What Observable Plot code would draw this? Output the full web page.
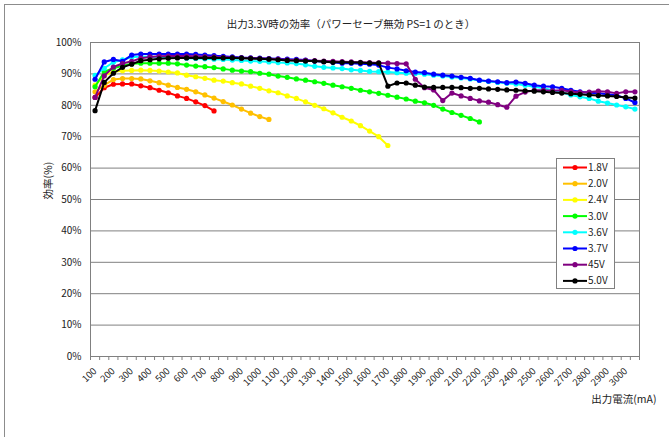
<!DOCTYPE html>
<html><head><meta charset="utf-8">
<script src="https://cdn.jsdelivr.net/npm/d3@7"></script>
<script src="https://cdn.jsdelivr.net/npm/@observablehq/plot@0.6"></script>
<style>
body{margin:0;background:#fff;overflow:hidden;font-family:"Noto Sans CJK JP",sans-serif}
#wrap{position:relative;width:669px;height:437px;overflow:hidden}
#border{position:absolute;left:4px;top:4px;width:800px;height:600px;border:1px solid #8c8c8c;box-sizing:border-box}
#chart{position:absolute;left:0;top:0}
#legend{position:absolute;left:556px;top:158px}
</style></head><body>
<div id="wrap"><div id="border"></div><div id="chart"></div><div id="legend"></div></div>
<script>
const currents = [100,150,200,250,300,350,400,450,500,550,600,650,700,750,800,850,900,950,1000,1050,
  1100,1150,1200,1250,1300,1350,1400,1450,1500,1550,1600,1650,1700,1750,1800,1850,1900,1950,2000,2050,
  2100,2150,2200,2250,2300,2350,2400,2450,2500,2550,2600,2650,2700,2750,2800,2850,2900,2950,3000,3050];
const tickLabels = [100,200,300,400,500,600,700,800,900,1000,1100,1200,1300,1400,1500,1600,1700,1800,1900,2000,
  2100,2200,2300,2400,2500,2600,2700,2800,2900,3000];
const yTicks = [0,10,20,30,40,50,60,70,80,90,100];
const seriesNames = ["1.8V","2.0V","2.4V","3.0V","3.6V","3.7V","45V","5.0V"];
const seriesColors = ["#FF0000","#FFC000","#FFFF00","#00FF00","#00FFFF","#0000FF","#800080","#000000"];
const s18 = [82.5,85.6,86.7,86.8,86.8,86.2,85.6,84.8,84.0,83.0,82.2,81.1,79.9,78.2];
const s20 = [84.3,86.4,88.2,88.5,88.5,88.4,87.8,87.2,86.4,85.7,85.1,84.3,83.3,82.3,81.2,80.1,78.8,77.5,76.4,75.5];
const s24 = [86.4,89.4,90.7,91.0,91.1,91.2,91.1,90.9,90.6,90.3,89.6,89.1,88.6,88.0,87.7,87.2,86.8,86.1,85.4,84.6,
  84.0,83.0,82.2,81.1,80.0,78.9,77.6,76.2,75.0,73.5,71.8,70.0,67.2];
const s30 = [85.9,90.7,91.8,92.6,93.2,93.4,93.4,93.4,93.4,93.2,92.8,92.5,92.3,92.0,91.6,91.2,90.9,90.7,90.2,89.9,
  89.3,88.9,88.4,88.0,87.5,87.0,86.4,85.9,85.4,84.8,84.3,83.8,83.2,82.6,82.0,81.3,80.8,80.0,78.8,77.7,
  76.8,75.8,74.7];
const s36 = [89.5,91.8,93.7,94.5,95.4,95.5,95.5,95.4,95.3,95.2,95.0,94.9,94.8,94.7,94.6,94.4,94.3,94.1,94.0,93.8,
  93.6,93.5,93.3,92.9,92.4,92.1,91.9,91.7,91.3,91.1,90.8,90.7,90.6,90.4,90.2,90.1,89.9,89.6,89.3,89.0,
  88.7,88.4,87.9,87.6,87.3,87.0,86.8,86.4,85.9,85.4,84.8,84.1,83.3,82.7,82.2,81.3,80.7,80.1,79.5,78.8];
const s37 = [88.3,93.8,94.6,94.0,96.0,96.3,96.3,96.3,96.3,96.3,96.3,96.2,96.0,95.8,95.6,95.4,95.2,95.1,95.0,94.9,
  94.8,94.7,94.6,94.4,94.1,93.9,93.7,93.4,93.4,93.2,93.1,92.8,92.0,91.6,91.0,90.6,90.4,89.9,89.6,89.3,
  88.9,88.6,88.0,87.7,87.5,87.2,87.4,87.0,86.4,86.1,85.9,85.4,84.8,84.3,84.0,83.8,83.5,83.2,82.2,80.9];
const s45 = [82.5,89.4,92.2,93.3,94.0,95.0,95.4,95.6,95.7,95.7,95.7,95.6,95.5,95.4,95.3,95.2,95.1,95.0,94.9,94.8,
  94.7,94.5,94.4,94.3,94.2,94.1,94.0,93.9,93.8,93.7,93.6,93.5,93.4,93.3,93.2,88.3,85.6,84.9,81.5,83.9,
  83.0,82.2,81.4,81.0,80.2,79.4,82.9,84.2,84.8,84.8,84.6,84.8,84.4,84.1,84.2,84.5,84.3,83.8,84.3,84.3];
const s50 = [78.3,87.3,90.2,92.1,93.1,94.2,94.5,94.8,95.0,95.1,95.1,95.1,95.1,95.1,95.1,95.1,95.0,94.9,94.8,94.7,
  94.5,94.3,94.2,94.1,94.1,93.9,93.7,93.7,93.6,93.6,93.4,93.4,86.1,87.1,87.1,86.4,85.8,85.7,85.7,85.7,
  85.6,85.4,85.4,85.2,85.1,84.9,84.8,84.6,84.5,84.3,84.1,83.9,83.7,83.5,83.3,83.1,83.0,82.8,82.5,82.3];
const allSeries = [s18,s20,s24,s30,s36,s37,s45,s50];

const font = '"Noto Sans CJK JP", sans-serif';
const boundaries = [currents[0]-25, ...currents.map(c => c+25)];

const marks = [
  Plot.gridY(yTicks, {stroke:"#808080", strokeOpacity:1, strokeWidth:1}),
  Plot.frame({stroke:"#808080", strokeWidth:1}),
  Plot.axisY(yTicks, {tickSize:0, tickPadding:9, tickFormat:d => d + "%", fontSize:10, fill:"#222", label:null}),
  Plot.axisX(boundaries, {tickSize:4, tickFormat:() => "", stroke:"#808080", label:null}),
  Plot.axisX(tickLabels, {tickSize:0, tickPadding:13, tickRotate:-45, fontSize:9.5, fill:"#222", label:null, tickFormat:d => String(d)})
];
allSeries.forEach((vals, k) => {
  const data = vals.map((v, i) => ({x: currents[i], y: v}));
  marks.push(Plot.line(data, {x:"x", y:"y", stroke:seriesColors[k], strokeWidth:2}));
  marks.push(Plot.dot(data, {x:"x", y:"y", fill:seriesColors[k], r:2.6, symbol:"circle"}));
});
marks.push(Plot.text(["出力3.3V時の効率（パワーセーブ無効 PS=1 のとき）"], {frameAnchor:"top", dx:-14, dy:-22, fontSize:10.5, fill:"#222"}));
marks.push(Plot.text(["効率(%)"], {frameAnchor:"left", dx:-42, rotate:-90, fontSize:10.5, fill:"#222"}));
marks.push(Plot.text(["出力電流(mA)"], {frameAnchor:"bottom-right", dx:17, dy:46, textAnchor:"end", fontSize:10.5, fill:"#222"}));

const chart = Plot.plot({
  width:669, height:437,
  marginLeft:90, marginRight:30, marginTop:42, marginBottom:81,
  x:{type:"linear", domain:[75,3075], axis:null},
  y:{type:"linear", domain:[0,100], axis:null},
  style:{fontFamily:font, fontSize:"10px", background:"transparent"},
  marks
});
document.getElementById("chart").appendChild(chart);

// legend
const lg = d3.select("#legend").append("svg").attr("width", 60).attr("height", 132)
  .style("font-family", font).style("font-size", "10px");
lg.append("rect").attr("x",0.5).attr("y",0.5).attr("width",58).attr("height",130)
  .attr("fill","#fff").attr("stroke","#808080");
seriesNames.forEach((name, k) => {
  const yy = 9.5 + k*16.2;
  lg.append("line").attr("x1",7).attr("x2",31).attr("y1",yy).attr("y2",yy)
    .attr("stroke",seriesColors[k]).attr("stroke-width",2);
  lg.append("circle").attr("cx",19).attr("cy",yy).attr("r",2.6).attr("fill",seriesColors[k]);
  lg.append("text").attr("x",32).attr("y",yy).attr("dy","0.35em").attr("fill","#222").text(name);
});
</script>
</body></html>
